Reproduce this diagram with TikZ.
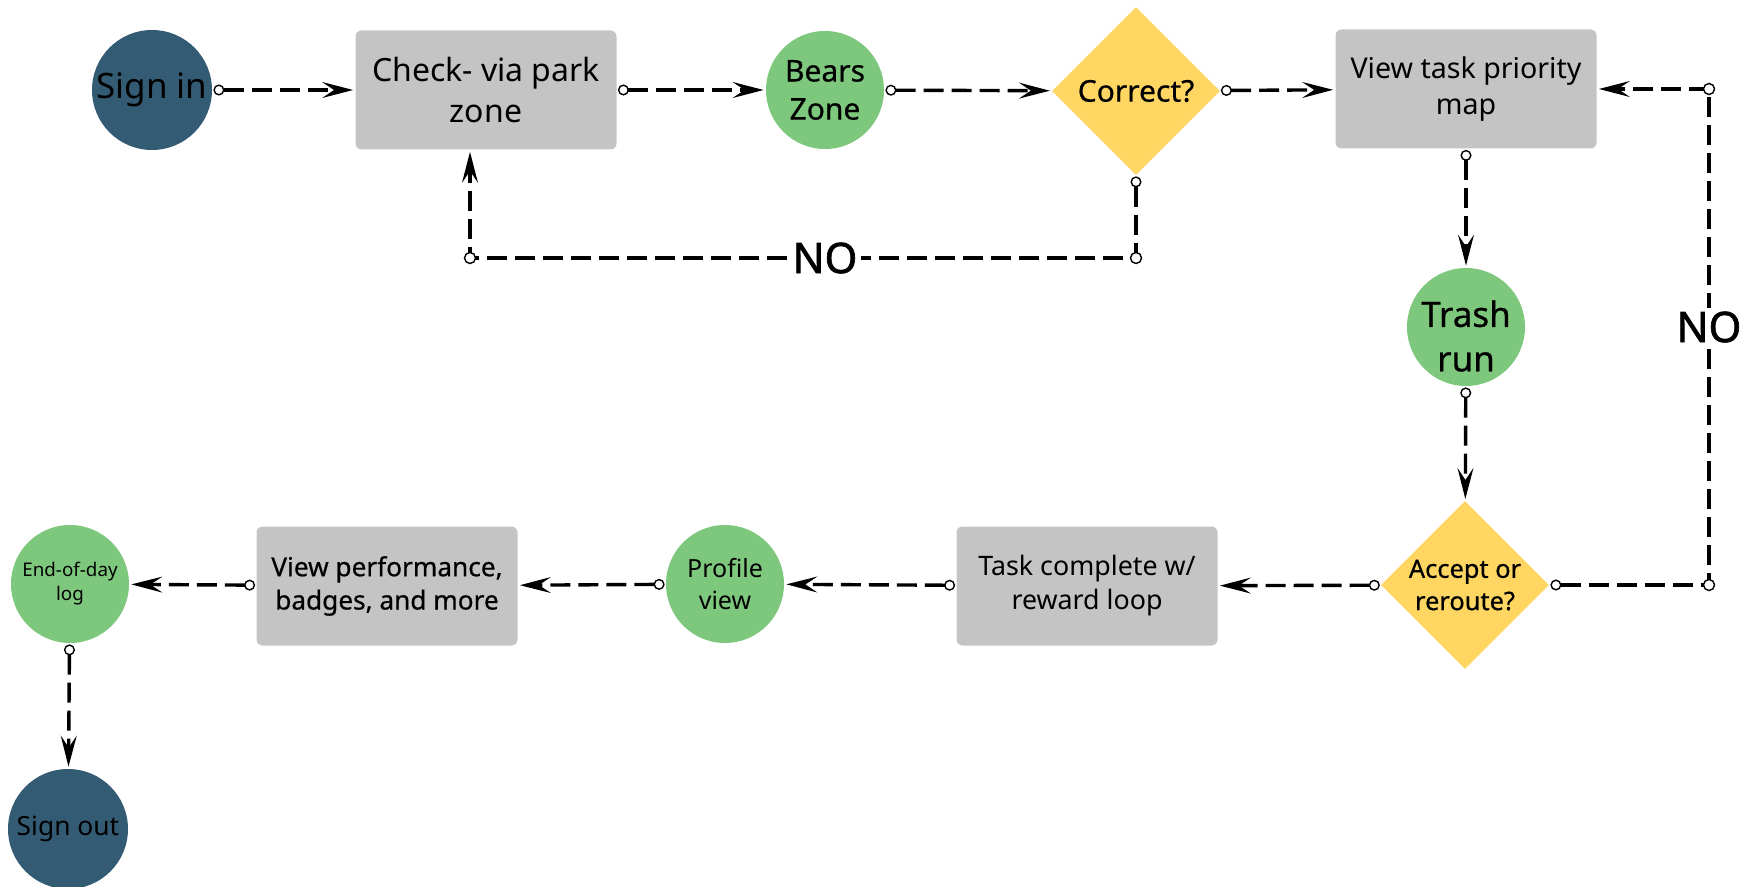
\documentclass[tikz,border=0pt]{standalone}
\usepackage{fontspec}
\setmainfont{Noto Sans}
\newfontfamily\medfont{Noto Sans}[FakeBold=0.6]
\newfontfamily\nofont{Noto Sans}[FakeBold=1.6]
\usetikzlibrary{arrows.meta,shapes.geometric,calc}
\definecolor{navy}{HTML}{335C74}
\definecolor{leaf}{HTML}{7EC87E}
\definecolor{slab}{HTML}{C4C4C4}
\definecolor{gold}{HTML}{FFD662}
\newcommand{\fsz}[1]{\fontsize{#1}{1.27\dimexpr#1pt\relax}\selectfont}
\tikzset{
 every node/.style={text=black, align=center, inner sep=0pt},
 navycirc/.style={circle, fill=navy, minimum size=60pt},
 leafcirc/.style={circle, fill=leaf, minimum size=59pt},
 graybox/.style={rectangle, rounded corners=3pt, fill=slab, minimum width=130.5pt, minimum height=59.5pt},
 decision/.style={diamond, fill=gold, minimum width=84pt, minimum height=84pt, aspect=1},
 link/.style={line width=1.7pt, dash pattern=on 10pt off 4pt,
   {Circle[length=5.5pt, line width=0.7pt, fill=white]}-{Stealth[length=15.5pt, width=8pt, inset=6pt, line width=0.6pt]},
   shorten <=0.5pt, shorten >=1pt},
 waypt/.style={circle, draw, line width=0.7pt, fill=white, minimum size=5.5pt},
 nolabel/.style={fill=white, inner sep=2pt, font=\nofont\fsz{21}},
}
\begin{document}
\begin{tikzpicture}[x=0.5pt, y=-0.5pt]
\path[use as bounding box] (0,0) rectangle (1751,887);

% top row
\node[navycirc, font=\fsz{17.5}] (signin) at (152,90) {Sign in};
\node[graybox, font=\fsz{16}] (check) at (486,90) {Check- via park\\zone};
\node[leafcirc, font=\medfont\fsz{15}] (bears) at (825,90) {Bears\\Zone};
\node[decision, font=\medfont\fsz{15}] (correct) at (1136,91) {Correct?};
\node[graybox, font=\fsz{14.3}] (view) at (1466,89) {View task priority\\map};

% right column
\node[leafcirc] (trash) at (1466,327) {};
\node[font=\medfont\fsz{17.5}] (trashtxt) at ([yshift=-4.5pt]trash.center) {Trash\\run};
\node[decision] (accept) at (1465,585) {};
\node[font=\medfont\fsz{12.7}] (accepttxt) at (accept) {Accept or\\reroute?};

% bottom row
\node[graybox, font=\fsz{13.4}] (task) at (1087,586) {Task complete w/\\reward loop};
\node[leafcirc, font=\bfseries\fsz{12.5}] (profile) at (725,584) {Profile\\view};
\node[graybox, font=\medfont\fsz{13.1}] (perf) at (387,586) {View performance,\\badges, and more};
\node[leafcirc, font=\fsz{9.4}] (endday) at (70,584) {End-of-day\\log};
\node[navycirc, font=\fsz{13.2}] (signout) at (68,829) {Sign out};

% main flow
\draw[link] (signin) -- (check);
\draw[link] (check) -- (bears);
\draw[link] (bears) -- (correct);
\draw[link] (correct) -- (view);
\draw[link] (view) -- (trash);
\draw[link] (trash) -- (accept);
\draw[link] (accept) -- (task);
\draw[link] (task) -- (profile);
\draw[link] (profile) -- (perf);
\draw[link] (perf) -- (endday);
\draw[link] (endday) -- (signout);

% NO loop back to check
\coordinate (k1) at (1136,258);
\coordinate (k2) at (470,258);
\draw[link] (correct.south) -- (k1) -- (k2) -- (k2 |- check.south);
\node[waypt] (w1) at (k1) {};
\node[waypt] (w2) at (k2) {};
\node[nolabel] (no1) at (bears |- k1) {NO};

% NO loop back to view
\coordinate (k3) at (1709,585);
\coordinate (k4) at (1709,89);
\draw[link] (accept.east) -- (k3) -- (k4) -- (view.east);
\node[waypt] (w3) at (k3) {};
\node[waypt] (w4) at (k4) {};
\node[nolabel] (no2) at (k3 |- trash) {NO};
\end{tikzpicture}
\end{document}
